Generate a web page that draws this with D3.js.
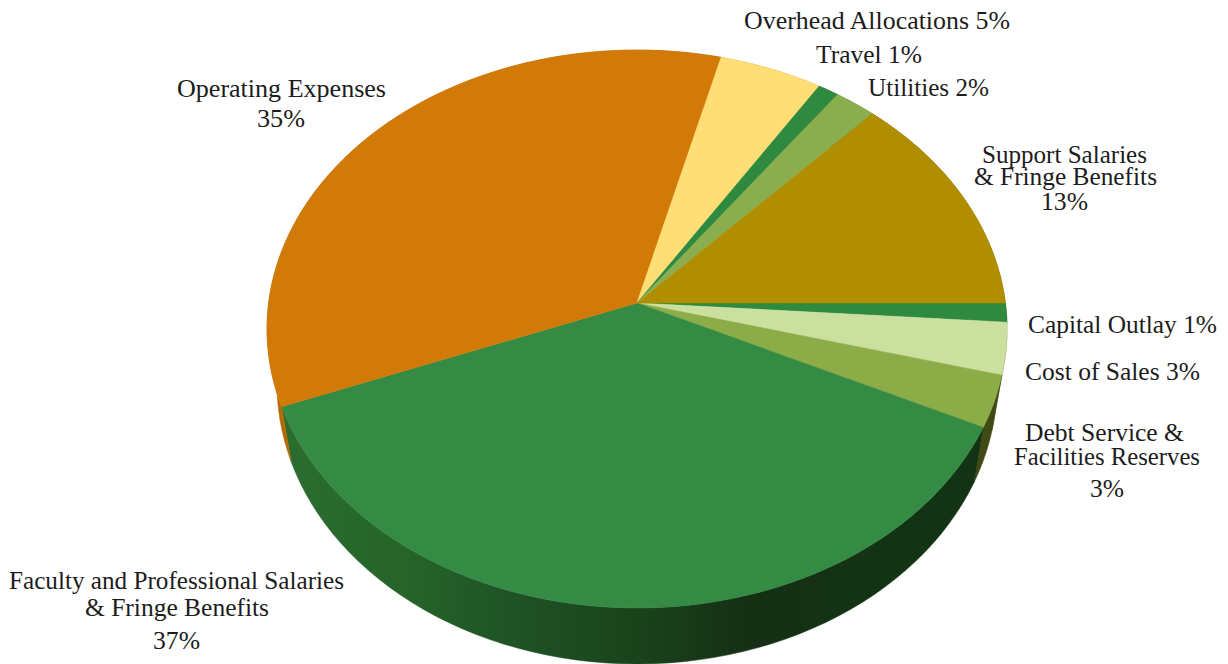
<!DOCTYPE html>
<html><head><meta charset="utf-8">
<script src="https://cdn.jsdelivr.net/npm/d3@7/dist/d3.min.js"></script>
<style>html,body{margin:0;padding:0;background:#fff}svg{display:block}</style>
</head><body><svg id="c" width="1228" height="664"></svg>
<script>
const categories=["Capital Outlay","Cost of Sales","Debt Service & Facilities Reserves","Faculty and Professional Salaries & Fringe Benefits","Operating Expenses","Overhead Allocations","Travel","Utilities","Support Salaries & Fringe Benefits"];
const values=[1.1,3,3,37,34.9,4.95,1,2,13.05];
const faceColors=["#2f8a40","#cbe09f","#8cac47","#358b43","#d27a08","#ffdf75","#2f8a40","#8aae4e","#b08e00"];
const wallColors=[["#1f5a28"],["#5f6f2c"],["#3f4a14"],["#123314","#133414","#152f14","#1a431b","#1f5225","#266429","#2b6d30"],["#b56905"],["#b59e50"],["#1f5a28"],["#5f7a34"],["#7c6400"]];
const labelLines=[["Capital Outlay 1%"],["Cost of Sales 3%"],["Debt Service &","Facilities Reserves","3%"],["Faculty and Professional Salaries","& Fringe Benefits","37%"],["Operating Expenses","35%"],["Overhead Allocations 5%"],["Travel 1%"],["Utilities 2%"],["Support Salaries","& Fringe Benefits","13%"]];
// [x0,x1,baseline] for every line of each label
const labelBoxes=[[[1028,1217,333]],[[1025,1200,380]],[[1025,1184,441],[1014,1200,465],[1090,1124,497]],[[9,344,589],[85,269,616],[153,200,649]],[[177,386,97],[257,305,127]],[[744,1010,29]],[[816,922,63]],[[868,989,96]],[[982,1147,163],[974,1157,185],[1041,1088,210]]];

const svg=d3.select("#c"), defs=svg.append("defs");
const pie=d3.pie().sort(null).value(d=>d).startAngle(Math.PI/2).endAngle(Math.PI*2.5);
const arcs=pie(values);

// perspective view of the disc
const cx=637, apexY=303, persp=-0.0932, ya=248.3, xd=368.4;
const facePt=a=>{const u=Math.sin(a),v=-Math.cos(a),w=1+persp*v;return [cx+xd*u/w,(ya*v+apexY)/w];};
const basePt=a=>{const p=facePt(a);return [cx+(p[0]-cx)*360/370,384+(p[1]-329)*280/279];};
const line=d3.line();
const samples=(a0,a1)=>d3.range(0,61).map(i=>a0+(a1-a0)*i/60);

// walls
arcs.forEach((d,i)=>{
  const s=samples(d.startAngle,d.endAngle);
  const cols=wallColors[i];
  let fill=cols[0];
  if(cols.length>1){
    const id="w"+i;
    const g=defs.append("linearGradient").attr("id",id).attr("gradientUnits","userSpaceOnUse").attr("x1",985).attr("x2",285).attr("y1",0).attr("y2",0);
    cols.forEach((c,k)=>g.append("stop").attr("offset",k/(cols.length-1)).attr("stop-color",c));
    fill=`url(#${id})`;
  }
  svg.append("path").attr("d",line(s.map(facePt).concat(s.slice().reverse().map(basePt)))+"Z").attr("fill",fill).attr("stroke",fill).attr("stroke-width",0.5);
});
// faces
arcs.forEach((d,i)=>{
  const s=samples(d.startAngle,d.endAngle);
  svg.append("path").attr("d",line([[cx,apexY]].concat(s.map(facePt)))+"Z").attr("fill",faceColors[i]).attr("stroke",faceColors[i]).attr("stroke-width",0.5);
});
// labels
labelLines.forEach((ls,i)=>ls.forEach((t,k)=>{
  const b=labelBoxes[i][k];
  svg.append("text").attr("x",b[0]).attr("y",b[2]).attr("textLength",b[1]-b[0]).attr("lengthAdjust","spacingAndGlyphs")
    .attr("font-family","'Liberation Serif',serif").attr("font-size",25).attr("fill","#1c1c1c").text(t);
}));
</script></body></html>
